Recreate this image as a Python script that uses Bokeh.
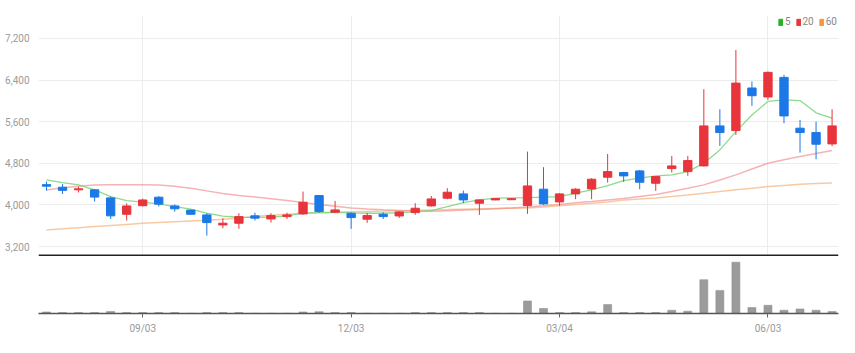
from bokeh.plotting import figure
from bokeh.layouts import column
from bokeh.models import (Range1d, FixedTicker, NumeralTickFormatter, Grid, Span,
                          ColumnDataSource, Legend, LegendItem)
from bokeh.embed import file_html
from bokeh.resources import INLINE

# ---------------- data (weekly candles) ----------------
opens  = [4390, 4340, 4290, 4290, 4135, 3820, 3985, 4148, 3980, 3900,
          3808, 3615, 3648, 3790, 3730, 3775, 3827, 4180, 3860, 3840,
          3725, 3820, 3788, 3852, 3981, 4129, 4212, 4032, 4096, 4100,
          3987, 4302, 4058, 4212, 4308, 4533, 4622, 4654, 4417, 4698,
          4640, 4750, 5519, 5429, 6248, 6075, 6452, 5475, 5391, 5173]
highs  = [4448, 4400, 4350, 4300, 4160, 4030, 4120, 4170, 4010, 3905,
          3840, 3745, 3840, 3850, 3840, 3850, 4256, 4192, 4077, 3852,
          3846, 3860, 3875, 4032, 4173, 4321, 4275, 4100, 4125, 4125,
          5025, 4725, 4225, 4320, 4513, 4980, 4635, 4673, 4550, 4942,
          4942, 6225, 5840, 6980, 6373, 6568, 6500, 5635, 5603, 5840]
lows   = [4275, 4210, 4240, 4065, 3730, 3700, 3970, 3970, 3870, 3815,
          3410, 3550, 3540, 3700, 3660, 3730, 3808, 3850, 3845, 3540,
          3655, 3730, 3750, 3810, 3968, 4109, 4032, 3808, 4090, 4095,
          3827, 4000, 3980, 4110, 4109, 4430, 4442, 4302, 4270, 4622,
          4558, 4737, 5135, 5346, 5904, 6020, 5571, 5006, 4879, 5128]
closes = [4360, 4280, 4310, 4150, 3790, 3980, 4095, 4015, 3925, 3820,
          3660, 3648, 3775, 3745, 3795, 3808, 4052, 3872, 3904, 3756,
          3795, 3775, 3865, 3936, 4115, 4244, 4096, 4096, 4121, 4120,
          4365, 4019, 4212, 4302, 4494, 4640, 4558, 4436, 4545, 4750,
          4853, 5519, 5391, 6342, 6100, 6548, 5711, 5391, 5167, 5519]
volumes = [3, 2, 2, 2, 4, 2, 2, 2, 2, 0.5,
           2, 2, 2, 0.5, 0.5, 0.5, 3, 3.5, 2, 2,
           0.5, 0.5, 0.5, 2, 2, 2, 2, 2, 0.3, 0.3,
           24.5, 9.7, 2, 2, 3.3, 17.4, 2, 2, 2, 6.4,
           4.5, 65.8, 45, 100, 11.6, 16, 6.4, 9, 6.4, 4]
ma5  = [4481, 4430, 4385, 4288, 4160, 4083, 4052, 4019, 3968, 3917,
        3840, 3785, 3763, 3760, 3765, 3788, 3840, 3852, 3855, 3845,
        3840, 3840, 3850, 3865, 3891, 3968, 4045, 4096, 4129, 4135,
        4141, 4150, 4160, 4225, 4288, 4370, 4468, 4513, 4558, 4577,
        4640, 4802, 5058, 5410, 5730, 5990, 6020, 6006, 5770, 5667]
ma20 = [4288, 4330, 4360, 4385, 4390, 4390, 4390, 4385, 4360, 4320,
        4270, 4220, 4180, 4150, 4120, 4085, 4045, 4010, 3975, 3940,
        3920, 3905, 3893, 3880, 3880, 3890, 3900, 3910, 3925, 3940,
        3960, 3985, 4010, 4040, 4065, 4096, 4125, 4160, 4200, 4256,
        4320, 4385, 4480, 4577, 4690, 4802, 4870, 4930, 4990, 5045]
ma60 = [3519, 3540, 3562, 3585, 3605, 3625, 3645, 3660, 3675, 3690,
        3705, 3725, 3750, 3775, 3800, 3820, 3840, 3850, 3860, 3868,
        3875, 3882, 3890, 3897, 3904, 3910, 3917, 3924, 3930, 3936,
        3942, 3960, 3985, 4010, 4030, 4055, 4096, 4115, 4135, 4160,
        4190, 4225, 4256, 4290, 4320, 4352, 4375, 4395, 4410, 4420]
x_tick_idx = [6, 19, 32, 45]
x_tick_labels = ["09/03", "12/03", "03/04", "06/03"]
y_ticks = [3200, 4000, 4800, 5600, 6400, 7200]
legend_labels = ["5", "20", "60"]

# ---------------- styles ----------------
RED = "#e8343b"
BLUE = "#1b78e6"
FONT = "Liberation Sans Narrow, Roboto, sans-serif"
LABEL_COLOR = "#9a9a9a"
GRID_COLOR = "#ececec"
NAN = float("nan")

idx = list(range(len(closes)))
colors = [RED if c >= o else BLUE for o, c in zip(opens, closes)]
src = ColumnDataSource(dict(
    x=idx, o=opens, h=highs, l=lows, c=closes, v=volumes,
    top=[max(o, c) for o, c in zip(opens, closes)],
    bot=[min(o, c) for o, c in zip(opens, closes)],
    color=colors, ma5=ma5, ma20=ma20, ma60=ma60))

xr = Range1d(-0.5, 49.4)

# ---------------- price panel ----------------
p = figure(width=855, height=256, x_range=xr, y_range=Range1d(3008, 7642),
           output_backend="svg", toolbar_location=None, x_axis_location=None,
           min_border_left=38, min_border_right=17, min_border_top=15,
           min_border_bottom=0)
p.outline_line_color = None
p.xgrid.visible = False
p.yaxis.ticker = FixedTicker(ticks=y_ticks)
p.yaxis.formatter = NumeralTickFormatter(format="0,0")
p.yaxis.axis_line_color = None
p.yaxis.major_tick_line_color = None
p.yaxis.minor_tick_line_color = None
p.yaxis.major_label_text_font = FONT
p.yaxis.major_label_text_font_size = "10px"
p.yaxis.major_label_text_color = LABEL_COLOR
p.yaxis.major_label_standoff = 3
p.ygrid.grid_line_color = GRID_COLOR
p.add_layout(Grid(dimension=0, ticker=FixedTicker(ticks=x_tick_idx),
                  grid_line_color=GRID_COLOR))

p.line("x", "ma60", source=src, line_color="#f7b27a", line_width=1.5, line_alpha=0.7)
p.line("x", "ma20", source=src, line_color="#f08a8a", line_width=1.5, line_alpha=0.65)
p.line("x", "ma5", source=src, line_color="#7fd67f", line_width=1.3, line_alpha=0.9)

p.segment("x", "l", "x", "h", source=src, line_color="color", line_width=1)
p.vbar(x="x", width=0.52, top="top", bottom="bot", source=src,
       fill_color="color", line_color="color", line_width=1)

p.add_layout(Span(location=3027, dimension="width", line_color="#222222", line_width=2))

# legend with filled squares
leg_colors = ["#22b422", "#e8343b", "#f5973a"]
items = []
for lab, col in zip(legend_labels, leg_colors):
    r = p.quad(left=[NAN], right=[NAN], top=[NAN], bottom=[NAN],
               fill_color=col, line_color=col)
    items.append(LegendItem(label=lab, renderers=[r]))
leg = Legend(items=items, orientation="horizontal", location="top_right",
             glyph_width=5, glyph_height=8, label_standoff=2, spacing=5,
             padding=0, margin=1, border_line_color=None,
             background_fill_alpha=0, label_text_font=FONT,
             label_text_font_size="10px", label_text_color="#888888",
             label_height=10, label_width=0)
p.add_layout(leg)

# ---------------- volume panel ----------------
q = figure(width=855, height=97, x_range=xr, y_range=Range1d(0, 111),
           output_backend="svg", toolbar_location=None, y_axis_location=None,
           min_border_left=38, min_border_right=17, min_border_top=0,
           min_border_bottom=40)
q.outline_line_color = None
q.grid.visible = False
q.vbar(x="x", width=0.5, top="v", bottom=0, source=src,
       fill_color="#9b9b9b", line_color="#8a8a8a", line_width=0.5)
q.xaxis.ticker = FixedTicker(ticks=x_tick_idx)
q.xaxis.major_label_overrides = {i: s for i, s in zip(x_tick_idx, x_tick_labels)}
q.xaxis.axis_line_color = "#555555"
q.xaxis.axis_line_width = 1.5
q.xaxis.major_tick_line_color = "#666666"
q.xaxis.major_tick_out = 4
q.xaxis.major_tick_in = 0
q.xaxis.minor_tick_line_color = None
q.xaxis.major_label_text_font = FONT
q.xaxis.major_label_text_font_size = "10px"
q.xaxis.major_label_text_color = LABEL_COLOR
q.xaxis.major_label_standoff = 5

layout = column(p, q, spacing=0)
open("out.html", "w").write(file_html(layout, INLINE))
